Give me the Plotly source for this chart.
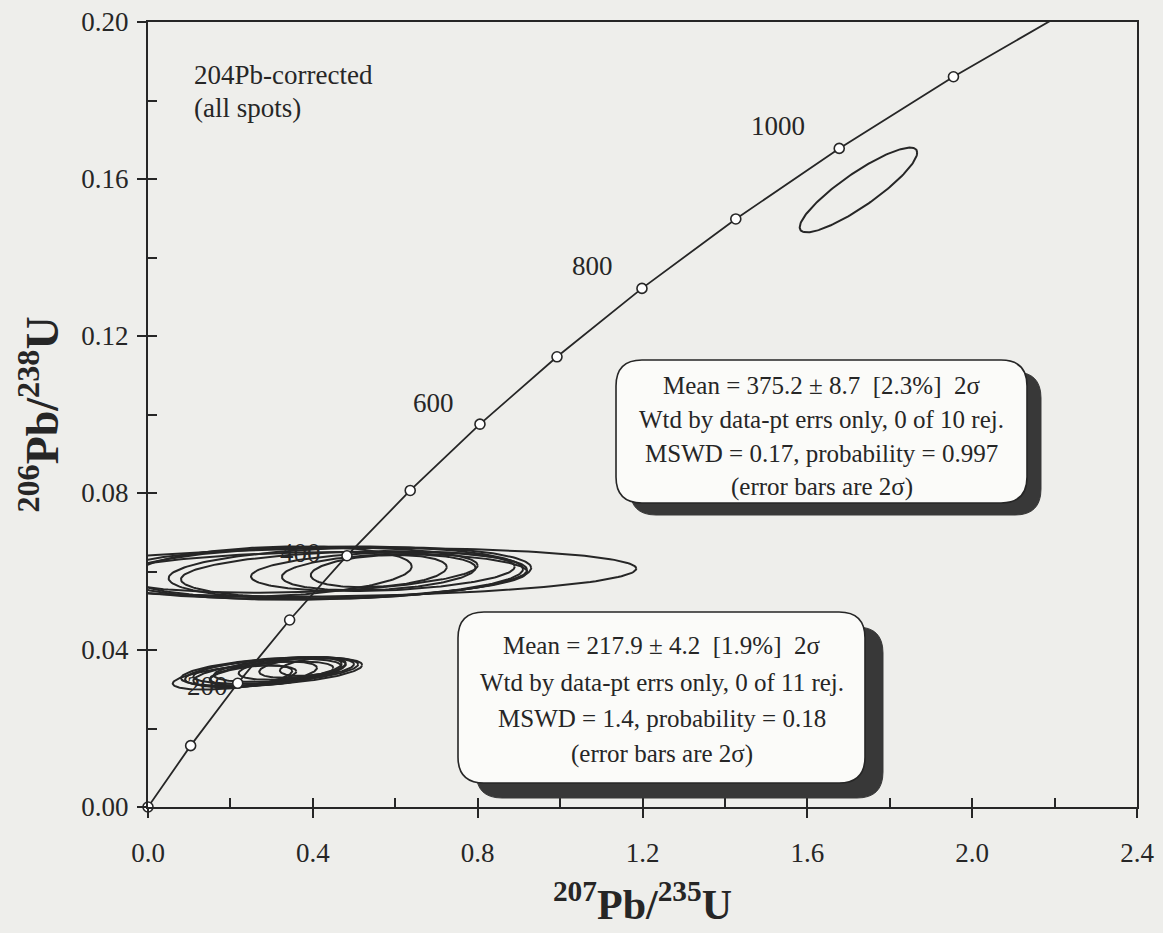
import numpy as np
import plotly.graph_objects as go

# ---------------- data ----------------
# Concordia reference points (age in Ma, 207Pb/235U, 206Pb/238U)
conc_age = [0, 100, 200, 300, 400, 500, 600, 700, 800, 900, 1000, 1100, 1200]
conc_x = [0.0, 0.1035, 0.2177, 0.3437, 0.4828, 0.6363, 0.8056, 0.9925, 1.1987, 1.4264, 1.6774, 1.9546, 2.2603]
conc_y = [0.0, 0.01563, 0.03151, 0.04764, 0.06402, 0.08065, 0.09754, 0.11470, 0.13213, 0.14982, 0.16780, 0.18605, 0.20458]
labelled_ages = [200, 400, 600, 800, 1000]

# ~400 Ma population (10 spots): centre, half-widths (2 sigma), correlation
g400_cx = [0.45, 0.49, 0.50, 0.57, 0.56, 0.56, 0.30, 0.42, 0.40, 0.35]
g400_cy = [0.0598, 0.0596, 0.0592, 0.0600, 0.0598, 0.0601, 0.0600, 0.0596, 0.0590, 0.0604]
g400_a = [0.735, 0.44, 0.42, 0.32, 0.235, 0.165, 0.34, 0.49, 0.52, 0.45]
g400_b = [0.0062, 0.0066, 0.0060, 0.0050, 0.0046, 0.0041, 0.0064, 0.0068, 0.0060, 0.0058]
g400_rho = [0.15, 0.2, 0.2, 0.25, 0.25, 0.25, 0.2, 0.15, 0.15, 0.2]

# ~218 Ma population (11 spots)
g200_cx = [0.30, 0.31, 0.33, 0.35, 0.30, 0.26, 0.21, 0.37, 0.28, 0.25, 0.40]
g200_cy = [0.0345, 0.0348, 0.0350, 0.0352, 0.0340, 0.0338, 0.0330, 0.0355, 0.0342, 0.0335, 0.0357]
g200_a = [0.22, 0.20, 0.17, 0.13, 0.15, 0.15, 0.15, 0.10, 0.19, 0.10, 0.08]
g200_b = [0.0037, 0.0034, 0.0031, 0.0028, 0.0031, 0.0033, 0.0031, 0.0026, 0.0036, 0.0026, 0.0023]
g200_rho = [0.45, 0.45, 0.45, 0.4, 0.45, 0.5, 0.5, 0.4, 0.45, 0.45, 0.4]

# single ~1000 Ma spot
g1000_cx = [1.724]
g1000_cy = [0.1572]
g1000_a = [0.1425]
g1000_b = [0.0108]
g1000_rho = [0.88]

box_lines_upper = ["Mean = 375.2 ± 8.7  [2.3%]  2σ",
                   "Wtd by data-pt errs only, 0 of 10 rej.",
                   "MSWD = 0.17, probability = 0.997",
                   "(error bars are 2σ)"]
box_lines_lower = ["Mean = 217.9 ± 4.2  [1.9%]  2σ",
                   "Wtd by data-pt errs only, 0 of 11 rej.",
                   "MSWD = 1.4, probability = 0.18",
                   "(error bars are 2σ)"]
note_lines = ["204Pb-corrected", "(all spots)"]

x_ticks = [0.0, 0.4, 0.8, 1.2, 1.6, 2.0, 2.4]
y_ticks = [0.00, 0.04, 0.08, 0.12, 0.16, 0.20]

# ---------------- style ----------------
INK = "#262626"
BG = "#eeeeeb"
FONT = "Liberation Serif, Times New Roman, serif"
W, H = 1163, 933
L, R, T, B = 148, 26, 22, 126
PW, PH = W - L - R, H - T - B


def ellipse_trace(cx, cy, a, b, rho):
    t = np.linspace(0, 2 * np.pi, 181)
    xs, ys = [], []
    for i in range(len(cx)):
        ex = cx[i] + a[i] * np.cos(t)
        ey = cy[i] + b[i] * (rho[i] * np.cos(t) + np.sqrt(1 - rho[i] ** 2) * np.sin(t))
        xs += list(ex) + [None]
        ys += list(ey) + [None]
    return go.Scatter(x=xs, y=ys, mode="lines", line=dict(color=INK, width=2),
                      hoverinfo="skip", showlegend=False)


def px_to_paper(px, py):
    return (px - L) / PW, (H - B - py) / PH


def rounded_rect(x0, y0, x1, y1, r):
    def P(px, py):
        u, v = px_to_paper(px, py)
        return f"{u:.5f},{v:.5f}"
    return (f"M{P(x0 + r, y0)} L{P(x1 - r, y0)} Q{P(x1, y0)} {P(x1, y0 + r)} "
            f"L{P(x1, y1 - r)} Q{P(x1, y1)} {P(x1 - r, y1)} "
            f"L{P(x0 + r, y1)} Q{P(x0, y1)} {P(x0, y1 - r)} "
            f"L{P(x0, y0 + r)} Q{P(x0, y0)} {P(x0 + r, y0)} Z")


fig = go.Figure()

# concordia line
fig.add_trace(go.Scatter(x=conc_x, y=conc_y, mode="lines", line=dict(color=INK, width=1.8),
                         hoverinfo="skip", showlegend=False))

# ellipses
fig.add_trace(ellipse_trace(g400_cx, g400_cy, g400_a, g400_b, g400_rho))
fig.add_trace(ellipse_trace(g200_cx, g200_cy, g200_a, g200_b, g200_rho))
fig.add_trace(ellipse_trace(g1000_cx, g1000_cy, g1000_a, g1000_b, g1000_rho))

# concordia age markers (inside plot range)
mk_x = [x for x, y in zip(conc_x, conc_y) if y <= 0.2 and x <= 2.4]
mk_y = [y for x, y in zip(conc_x, conc_y) if y <= 0.2 and x <= 2.4]
fig.add_trace(go.Scatter(x=mk_x, y=mk_y, mode="markers", cliponaxis=False,
                         marker=dict(symbol="circle", size=10, color="white",
                                     line=dict(color=INK, width=1.6)),
                         hoverinfo="skip", showlegend=False))

# dummy trace for overlay axes (inside tick marks)
fig.add_trace(go.Scatter(x=[None], y=[None], xaxis="x2", yaxis="y2", showlegend=False))

annotations = []
# age labels
lab_dx = {200: -8, 400: -24, 600: -24, 800: -27, 1000: -32}
lab_dy = {200: -3, 400: 3, 600: 21, 800: 22, 1000: 22}
for age in labelled_ages:
    i = conc_age.index(age)
    annotations.append(dict(x=conc_x[i], y=conc_y[i], xref="x", yref="y", text=str(age),
                            showarrow=False, xanchor="right", yanchor="middle",
                            xshift=lab_dx[age], yshift=lab_dy[age],
                            font=dict(family=FONT, size=27, color=INK)))

# note
for txt, py in zip(note_lines, [75, 108]):
    u, v = px_to_paper(192, py)
    annotations.append(dict(x=u, y=v, xref="paper", yref="paper", text=txt, showarrow=False,
                            xanchor="left", yanchor="middle",
                            font=dict(family=FONT, size=27, color=INK)))

shapes = []
boxes = [
    dict(x0=616, y0=360, x1=1027, y1=503, sdx=14, sdy=12, lines=box_lines_upper,
         ly=[385, 419, 453, 487]),
    dict(x0=458, y0=612, x1=865, y1=783, sdx=18, sdy=15, lines=box_lines_lower,
         ly=[645, 682, 718, 754]),
]
for bx in boxes:
    shapes.append(dict(type="path", xref="paper", yref="paper",
                       path=rounded_rect(bx["x0"] + bx["sdx"], bx["y0"] + bx["sdy"],
                                         bx["x1"] + bx["sdx"], bx["y1"] + bx["sdy"], 26),
                       fillcolor="#383838", line=dict(color="#383838", width=1), layer="above"))
    shapes.append(dict(type="path", xref="paper", yref="paper",
                       path=rounded_rect(bx["x0"], bx["y0"], bx["x1"], bx["y1"], 26),
                       fillcolor="#fbfbf9", line=dict(color=INK, width=1.6), layer="above"))
    cxp = (bx["x0"] + bx["x1"]) / 2
    for txt, py in zip(bx["lines"], bx["ly"]):
        u, v = px_to_paper(cxp, py)
        annotations.append(dict(x=u, y=v, xref="paper", yref="paper", text=txt, showarrow=False,
                                xanchor="center", yanchor="middle",
                                font=dict(family=FONT, size=25, color=INK)))

axis_common = dict(showgrid=False, zeroline=False, showline=True, linecolor=INK, linewidth=2,
                   mirror=True, ticks="outside", ticklen=9, tickwidth=2, tickcolor=INK,
                   automargin=False,
                   tickfont=dict(family=FONT, size=27, color=INK))

fig.update_layout(
    width=W, height=H,
    margin=dict(l=L, r=R, t=T, b=B, pad=0, autoexpand=False),
    paper_bgcolor=BG, plot_bgcolor=BG,
    showlegend=False,
    xaxis=dict(range=[0, 2.4], tickvals=x_ticks, ticktext=[f"{v:.1f}" for v in x_ticks],
               ticklabelstandoff=12,
               title=dict(text="<b><sup>207</sup>Pb/<sup>235</sup>U</b>", standoff=22,
                          font=dict(family=FONT, size=42, color=INK)),
               **axis_common),
    yaxis=dict(range=[0, 0.2], tickvals=y_ticks, ticktext=[f"{v:.2f}" for v in y_ticks],
               ticklabelstandoff=3,
               title=dict(text="<b><sup>206</sup>Pb/<sup>238</sup>U</b>", standoff=8,
                          font=dict(family=FONT, size=46, color=INK)),
               **axis_common),
    xaxis2=dict(range=[0, 2.4], overlaying="x", anchor="y2", side="bottom", dtick=0.2, tick0=0,
                ticks="inside", ticklen=9, tickwidth=2, tickcolor=INK, showticklabels=False,
                automargin=False,
                showgrid=False, zeroline=False, showline=False),
    yaxis2=dict(range=[0, 0.2], overlaying="y", anchor="x2", side="left", dtick=0.02, tick0=0,
                ticks="inside", ticklen=9, tickwidth=2, tickcolor=INK, showticklabels=False,
                automargin=False,
                showgrid=False, zeroline=False, showline=False),
    annotations=annotations,
    shapes=shapes,
)

fig.write_html("out.html", config={"displayModeBar": False},
               post_script="document.body.style.margin='0';document.body.style.overflow='hidden';")
